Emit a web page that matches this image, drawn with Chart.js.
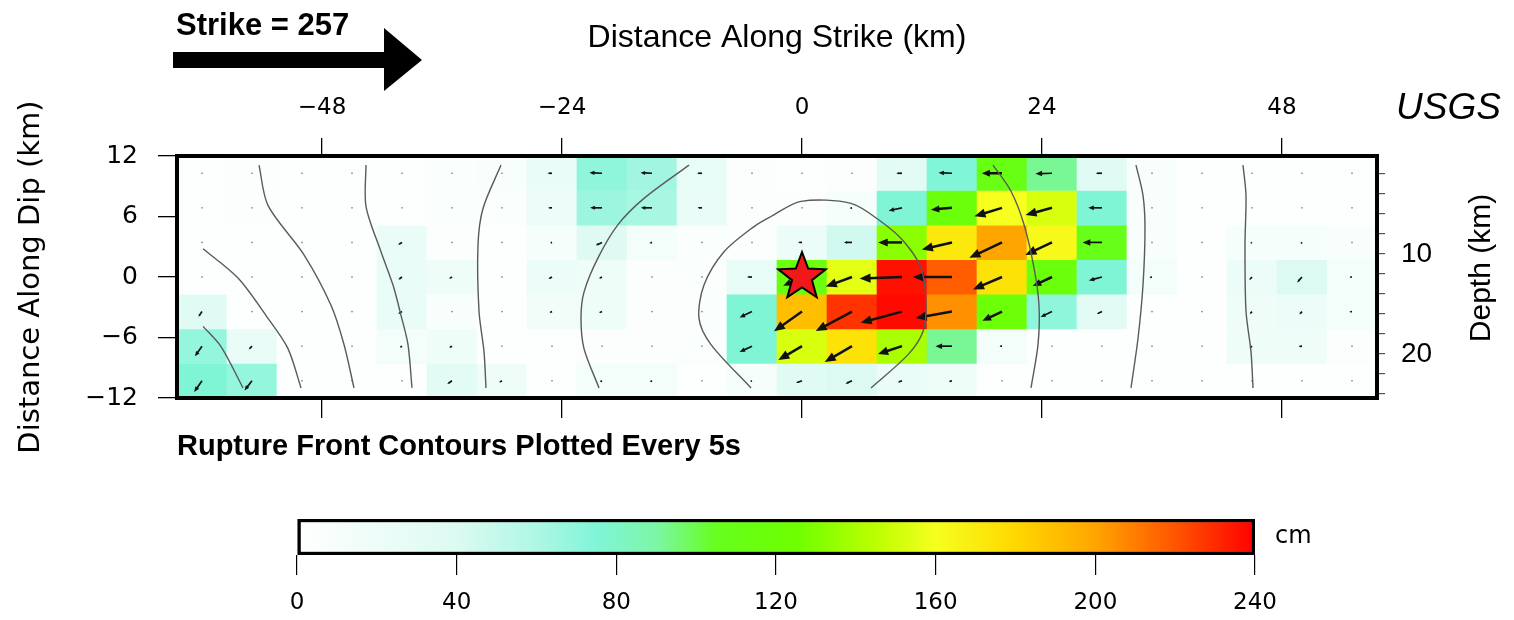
<!DOCTYPE html>
<html>
<head>
<meta charset="utf-8">
<script src="https://cdn.jsdelivr.net/npm/chart.js@4.4.1/dist/chart.umd.min.js"></script>
<style>
  html, body { margin: 0; padding: 0; background: #fff; }
  #wrap { position: relative; width: 1514px; height: 620px; }
  #slipChart { position: absolute; left: 0; top: 0; }
  #barChart { position: absolute; left: 0; top: 480px; }
</style>
</head>
<body>
<div id="wrap">
  <canvas id="slipChart" width="1514" height="620"></canvas>
  <canvas id="barChart" width="1514" height="140"></canvas>
</div>
<script>
// subfault centres (km)
const strikeKm = [-60, -55, -50, -45, -40, -35, -30, -25, -20, -15, -10, -5, 0, 5, 10, 15, 20, 25, 30, 35, 40, 45, 50, 55]
const dipKm = [10.29, 6.86, 3.43, 0, -3.43, -6.86, -10.29]

// slip (cm), one row per dip row, top row first
const slipCm = [
  [3, 5, 3, 3, 4, 6, 8, 25, 70, 64, 28, 5, 4, 5, 32, 75, 112, 92, 35, 8, 3, 3, 3, 3],
  [3, 5, 3, 3, 4, 6, 6, 22, 66, 62, 25, 5, 5, 12, 76, 118, 160, 152, 76, 8, 3, 3, 3, 3],
  [3, 3, 3, 3, 25, 5, 4, 10, 38, 14, 6, 5, 22, 45, 132, 172, 200, 163, 108, 8, 3, 10, 10, 8],
  [3, 3, 3, 3, 25, 18, 4, 22, 18, 5, 6, 28, 115, 155, 236, 218, 175, 118, 76, 14, 3, 22, 40, 14],
  [35, 4, 3, 3, 25, 8, 4, 15, 18, 5, 6, 76, 190, 228, 238, 205, 120, 70, 32, 4, 3, 18, 22, 14],
  [68, 25, 3, 3, 14, 18, 4, 3, 5, 5, 6, 76, 152, 175, 140, 92, 14, 4, 3, 3, 3, 18, 18, 5],
  [76, 68, 3, 4, 4, 32, 18, 4, 14, 14, 4, 10, 35, 40, 25, 18, 3, 3, 3, 3, 3, 3, 3, 3],
]

// slip direction on the plot (deg, 180 = towards -strike)
const rakeDeg = [
  [200, 200, 200, 200, 200, 190, 185, 180, 178, 178, 180, 180, 180, 180, 180, 178, 180, 182, 180, 190, 190, 190, 190, 190],
  [200, 200, 200, 200, 200, 195, 185, 180, 180, 180, 180, 180, 180, 190, 192, 185, 197, 195, 180, 190, 190, 190, 190, 190],
  [200, 200, 200, 200, 210, 205, 190, 200, 205, 200, 190, 185, 180, 180, 180, 193, 205, 205, 180, 190, 200, 215, 225, 210],
  [210, 210, 210, 210, 215, 210, 200, 210, 205, 200, 190, 180, 205, 200, 182, 180, 203, 205, 195, 190, 200, 228, 228, 185],
  [235, 215, 210, 210, 210, 210, 200, 205, 205, 200, 190, 205, 215, 208, 195, 190, 205, 205, 205, 200, 200, 228, 228, 185],
  [235, 225, 210, 210, 210, 210, 200, 205, 205, 200, 190, 205, 210, 210, 198, 180, 180, 200, 200, 200, 200, 220, 185, 190],
  [235, 232, 220, 210, 210, 215, 210, 210, 210, 210, 200, 200, 200, 205, 200, 195, 200, 200, 200, 200, 200, 210, 210, 200],
]

// rupture front contours, every 5 s (km along strike, km along dip)
const contours = [
  [[-59.9, -4.9], [-58.1, -6.9], [-55.9, -11.0]],
  [[-59.9, 2.8], [-56.4, -0.1], [-53.4, -4.1], [-51.4, -7.1], [-50.1, -11.0]],
  [[-54.3, 11.1], [-53.4, 7.1], [-49.8, 2.2], [-47.1, -2.8], [-45.8, -6.7], [-44.8, -11.0]],
  [[-43.6, 11.1], [-43.6, 7.0], [-42.1, 2.5], [-40.9, -0.8], [-40.1, -3.8], [-39.4, -6.7], [-39.0, -11.0]],
  [[-30.1, 11.1], [-31.9, 6.8], [-32.4, 3.2], [-32.3, -3.4], [-31.8, -7.4], [-31.6, -11.0]],
  [[-11.3, 11.1], [-15.8, 7.8], [-18.4, 5.2], [-20.4, 1.9], [-21.8, -1.5], [-22.1, -4.1], [-21.8, -7.1], [-20.3, -11.0]],
  [[-5.1, -11.0], [-9.1, -6.7], [-10.3, -4.1], [-9.8, -0.8], [-7.8, 2.5], [-4.8, 5.0], [-3.1, 6.0], [-0.1, 7.5], [4.9, 7.3], [7.9, 5.5], [10.2, 3.5], [11.9, 0.9], [12.4, -2.5], [12.1, -5.4], [10.6, -7.7], [6.9, -11.0]],
  [[19.1, 11.1], [20.9, 8.5], [22.2, 5.2], [23.2, 0.9], [23.7, -2.8], [23.6, -6.7], [22.9, -11.0]],
  [[33.4, 11.1], [34.1, 8.1], [34.3, 4.8], [34.1, -0.8], [33.6, -6.1], [32.9, -11.0]],
  [[44.1, 11.1], [44.4, 8.1], [44.3, 3.2], [44.4, -3.4], [44.9, -7.4], [45.1, -11.0]],
]

const hypocenter = [0, 0]
const strikeTicks = [-48, -24, 0, 24, 48]
const dipTicks = [-12, -6, 0, 6, 12]
const depthTicks = [2, 4, 6, 8, 10, 12, 14, 16, 18, 20, 22, 24]
const depthLabels = [10, 20]
const slipTicks = [0, 40, 80, 120, 160, 200, 240]

// colour scale
const cmapValues = [0, 40, 60, 75, 90, 105, 125, 145, 160, 180, 200, 220, 240]
const cmapColors = ["#ffffff", "#dcfaf2", "#aef7e4", "#80f5d8", "#7cf6a6", "#66ff1e", "#6eff00", "#bcff00", "#f6ff1e", "#ffd800", "#ffa500", "#ff5500", "#ff0000"]

const arrowKmPerCm = 0.018
const rowHalf = 24 / dipKm.length / 2

Chart.defaults.color = "#000"
Chart.defaults.font.family = "DejaVu Sans"

function hexRgb(h) {
  return [1, 3, 5].map(i => parseInt(h.slice(i, i + 2), 16))
}
function slipColor(v) {
  if (v <= cmapValues[0]) return cmapColors[0]
  for (let i = 1; i < cmapValues.length; i++) {
    if (v <= cmapValues[i]) {
      const t = (v - cmapValues[i - 1]) / (cmapValues[i] - cmapValues[i - 1])
      const a = hexRgb(cmapColors[i - 1]), b = hexRgb(cmapColors[i])
      const c = a.map((q, k) => Math.round(q + (b[k] - q) * t))
      return `rgb(${c[0]},${c[1]},${c[2]})`
    }
  }
  return cmapColors[cmapColors.length - 1]
}
const fmt = v => (v < 0 ? "\u2212" + Math.abs(v) : String(v))

// hypocentre star
const starImg = document.createElement("canvas")
starImg.width = starImg.height = 58
{
  const sc = starImg.getContext("2d")
  sc.beginPath()
  for (let k = 0; k < 10; k++) {
    const r = k % 2 ? 10.5 : 25
    const a = -Math.PI / 2 + (k * Math.PI) / 5
    sc.lineTo(29 + r * Math.cos(a), 29 + r * Math.sin(a))
  }
  sc.closePath()
  sc.fillStyle = "#f01818"
  sc.fill()
  sc.lineWidth = 2
  sc.strokeStyle = "#000"
  sc.stroke()
}

const slipArrows = {
  id: "slipArrows",
  afterDatasetDraw(chart, args) {
    if (args.index !== 0) return
    const { ctx, chartArea: a, scales: { x, y } } = chart
    ctx.save()
    ctx.beginPath()
    ctx.rect(a.left, a.top, a.width, a.height)
    ctx.clip()
    ctx.fillStyle = "#111"
    ctx.strokeStyle = "#111"
    dipKm.forEach((yc, r) => strikeKm.forEach((xc, c) => {
      const len = slipCm[r][c] * arrowKmPerCm
      const t = (rakeDeg[r][c] * Math.PI) / 180
      const x0 = x.getPixelForValue(xc), y0 = y.getPixelForValue(yc)
      const x1 = x.getPixelForValue(xc + len * Math.cos(t))
      const y1 = y.getPixelForValue(yc + len * Math.sin(t))
      const dx = x1 - x0, dy = y1 - y0, L = Math.hypot(dx, dy)
      if (L < 1.5) {
        ctx.fillStyle = "#777"
        ctx.fillRect(x0 - 0.7, y0 - 0.7, 1.4, 1.4)
        ctx.fillStyle = "#111"
        return
      }
      const ux = dx / L, uy = dy / L
      const hl = Math.min(11, L * 0.4), hw = hl * 0.42
      ctx.lineWidth = L > 20 ? 2.5 : 1.7
      ctx.beginPath()
      ctx.moveTo(x0, y0)
      ctx.lineTo(x1 - ux * hl * 0.8, y1 - uy * hl * 0.8)
      ctx.stroke()
      ctx.beginPath()
      ctx.moveTo(x1, y1)
      ctx.lineTo(x1 - ux * hl - uy * hw, y1 - uy * hl + ux * hw)
      ctx.lineTo(x1 - ux * hl + uy * hw, y1 - uy * hl - ux * hw)
      ctx.closePath()
      ctx.fill()
    }))
    ctx.restore()
  },
}

const decorations = {
  id: "decorations",
  afterDraw(chart) {
    const { ctx, chartArea: a } = chart
    ctx.save()
    ctx.lineWidth = 4
    ctx.strokeStyle = "#000"
    ctx.strokeRect(a.left, a.top, a.width, a.height)

    ctx.fillStyle = "#000"
    ctx.textBaseline = "alphabetic"
    ctx.textAlign = "left"
    ctx.font = "bold 31px 'Liberation Sans'"
    ctx.fillText("Strike = 257", 176, 35)
    ctx.fillRect(173, 52, 214, 16)
    ctx.beginPath()
    ctx.moveTo(384, 28)
    ctx.lineTo(422, 60)
    ctx.lineTo(384, 91)
    ctx.closePath()
    ctx.fill()

    ctx.font = "italic 37px 'Liberation Sans'"
    ctx.fillText("USGS", 1396, 119)

    ctx.font = "bold 29px 'Liberation Sans'"
    ctx.fillText("Rupture Front Contours Plotted Every 5s", 177, 455)

    ctx.translate(1490, 268)
    ctx.rotate(-Math.PI / 2)
    ctx.textAlign = "center"
    ctx.font = "30px 'Liberation Sans'"
    ctx.fillText("Depth (km)", 0, 0)
    ctx.restore()
  },
}

const cellSets = dipKm.map((yc, r) => ({
  type: "bar",
  order: 2,
  grouped: false,
  xAxisID: "x",
  yAxisID: "y",
  data: strikeKm.map(x => ({ x, y: [yc - rowHalf, yc + rowHalf] })),
  backgroundColor: slipCm[r].map(slipColor),
  borderWidth: 0,
  barPercentage: 1,
  categoryPercentage: 1,
}))

const contourSets = contours.map(line => ({
  type: "line",
  order: 1,
  xAxisID: "x",
  yAxisID: "y",
  data: line.map(([x, y]) => ({ x, y })),
  borderColor: "#5a5a5a",
  borderWidth: 1.4,
  pointRadius: 0,
  tension: 0.3,
  fill: false,
}))

const starSet = {
  type: "scatter",
  order: 0,
  xAxisID: "x",
  yAxisID: "y",
  data: [{ x: hypocenter[0], y: hypocenter[1] }],
  pointStyle: starImg,
  pointRadius: 25,
}

new Chart(document.getElementById("slipChart"), {
  data: { datasets: [...cellSets, ...contourSets, starSet] },
  options: {
    responsive: false,
    animation: false,
    devicePixelRatio: 1,
    layout: { padding: 0 },
    plugins: { legend: { display: false }, tooltip: { enabled: false } },
    scales: {
      x: {
        type: "linear",
        position: "top",
        offset: false,
        min: -62.5,
        max: 57.5,
        afterBuildTicks: s => { s.ticks = strikeTicks.map(v => ({ value: v })) },
        ticks: { font: { size: 23 }, padding: 16, autoSkip: false, maxRotation: 0, callback: fmt },
        grid: { offset: false, drawOnChartArea: false, tickLength: 18, color: "#000", lineWidth: 1.3 },
        border: { display: false },
        title: {
          display: true,
          text: "Distance Along Strike (km)",
          font: { family: "Liberation Sans", size: 32 },
          padding: { top: 19, bottom: 0 },
        },
        afterFit: s => { s.height = 156 },
      },
      xb: {
        type: "linear",
        position: "bottom",
        offset: false,
        min: -62.5,
        max: 57.5,
        afterBuildTicks: s => { s.ticks = strikeTicks.map(v => ({ value: v })) },
        ticks: { display: false },
        grid: { offset: false, drawOnChartArea: false, tickLength: 20, color: "#000", lineWidth: 1.3 },
        border: { display: false },
        afterFit: s => { s.height = 222 },
      },
      y: {
        type: "linear",
        position: "left",
        min: -12,
        max: 12,
        afterBuildTicks: s => { s.ticks = dipTicks.map(v => ({ value: v })) },
        ticks: { font: { size: 25 }, padding: 20, autoSkip: false, callback: fmt },
        grid: { drawOnChartArea: false, tickLength: 19, color: "#000", lineWidth: 1.3 },
        border: { display: false },
        title: {
          display: true,
          text: "Distance Along Dip (km)",
          font: { size: 29 },
          padding: { top: 14, bottom: 0 },
        },
        afterFit: s => { s.width = 177 },
      },
      depth: {
        type: "linear",
        position: "right",
        reverse: true,
        min: 0.2,
        max: 24.4,
        afterBuildTicks: s => { s.ticks = depthTicks.map(v => ({ value: v })) },
        ticks: {
          font: { family: "Liberation Sans", size: 28 },
          padding: 16,
          autoSkip: false,
          callback: v => (depthLabels.includes(v) ? String(v) : ""),
        },
        grid: { drawOnChartArea: false, tickLength: 8, color: "#555", lineWidth: 1.2 },
        border: { display: false },
        afterFit: s => { s.width = 137 },
      },
    },
  },
  plugins: [slipArrows, decorations],
})

// colour bar
const cmLabel = {
  id: "cmLabel",
  afterDraw(chart) {
    const { ctx, chartArea: a } = chart
    ctx.save()
    ctx.fillStyle = "#000"
    ctx.font = "24px 'DejaVu Sans'"
    ctx.textBaseline = "middle"
    ctx.fillText("cm", a.right + 20, (a.top + a.bottom) / 2)
    ctx.restore()
  },
}

new Chart(document.getElementById("barChart"), {
  type: "bar",
  data: {
    labels: [""],
    datasets: [{
      data: [[slipTicks[0], slipTicks[slipTicks.length - 1]]],
      backgroundColor: c => {
        const { chart } = c
        const a = chart.chartArea
        if (!a) return "#fff"
        const xs = chart.scales.x
        const lo = xs.getPixelForValue(cmapValues[0])
        const hi = xs.getPixelForValue(cmapValues[cmapValues.length - 1])
        const g = chart.ctx.createLinearGradient(lo, 0, hi, 0)
        cmapValues.forEach((v, i) => g.addColorStop(v / cmapValues[cmapValues.length - 1], cmapColors[i]))
        return g
      },
      borderColor: "#000",
      borderWidth: 3.5,
      borderSkipped: false,
      barPercentage: 1,
      categoryPercentage: 1,
    }],
  },
  options: {
    indexAxis: "y",
    responsive: false,
    animation: false,
    devicePixelRatio: 1,
    layout: { padding: { left: 297, right: 259, top: 39, bottom: 0 } },
    plugins: { legend: { display: false }, tooltip: { enabled: false } },
    scales: {
      x: {
        type: "linear",
        min: 0,
        max: 240,
        afterBuildTicks: s => { s.ticks = slipTicks.map(v => ({ value: v })) },
        ticks: { font: { size: 23 }, padding: 14, autoSkip: false },
        grid: { drawOnChartArea: false, tickLength: 20, color: "#000", lineWidth: 1.2 },
        border: { display: false },
        afterFit: s => { s.height = 65 },
      },
      y: { display: false },
    },
  },
  plugins: [cmLabel],
})
</script>
</body>
</html>
